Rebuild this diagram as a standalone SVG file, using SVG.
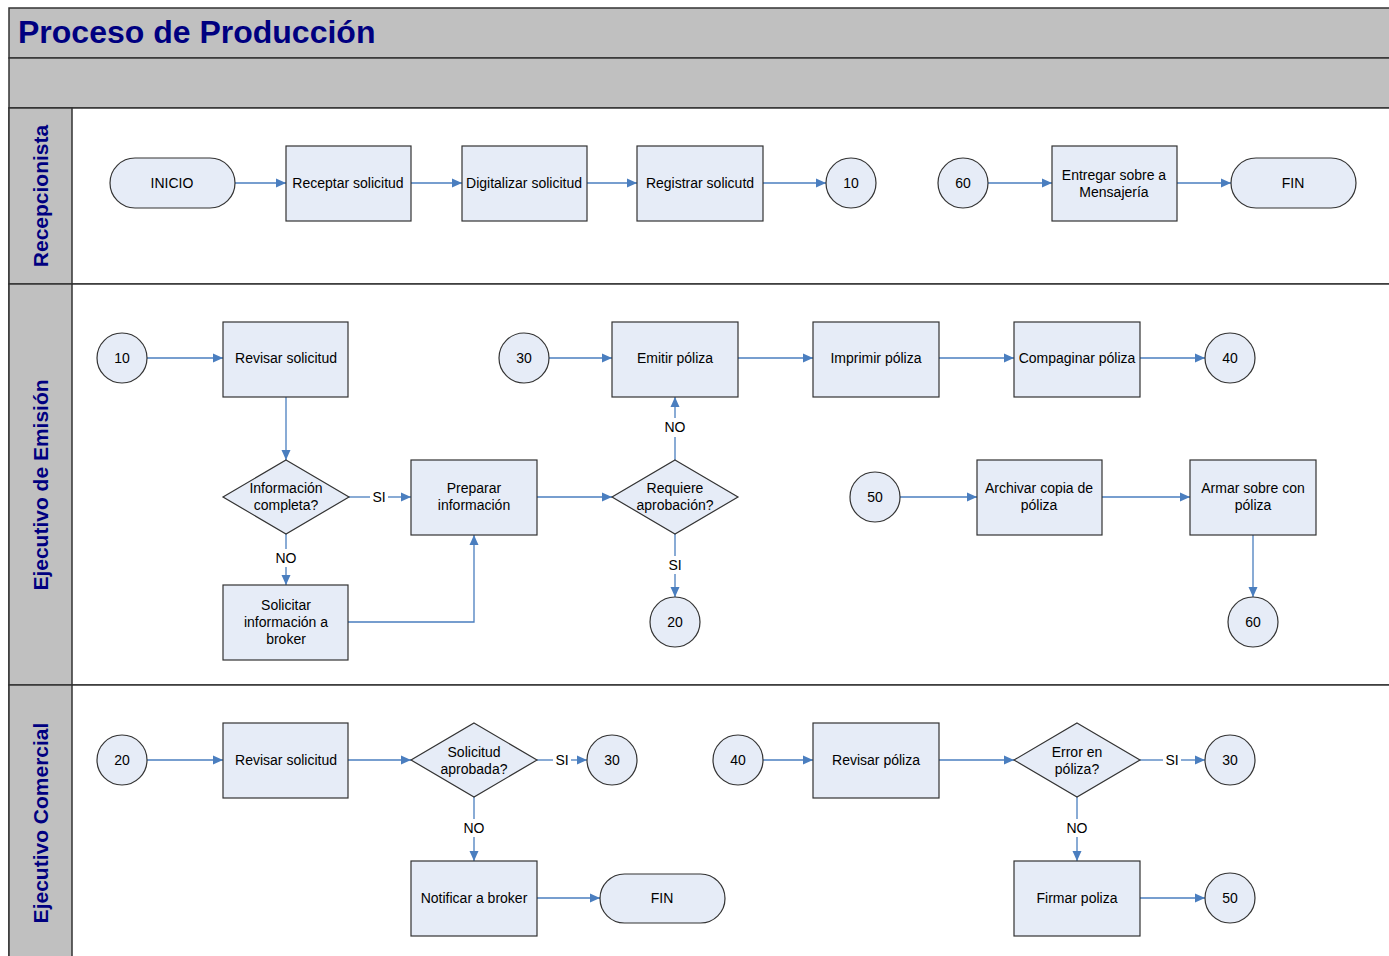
<svg xmlns="http://www.w3.org/2000/svg" width="1389" height="956" viewBox="0 0 1389 956">
<defs>
<marker id="ah" viewBox="0 0 10 10" refX="10" refY="5" markerWidth="10" markerHeight="10" markerUnits="userSpaceOnUse" orient="auto">
<path d="M0,0.5 L10,5 L0,9.5 Z" fill="#4a7ebf"/>
</marker>
<style>
.band{fill:#c0c0c0;stroke:#333;stroke-width:1.5}
.lane{fill:#fff;stroke:#333;stroke-width:1.5}
.sh{fill:#e6ecf7;stroke:#333;stroke-width:1.2}
.t{font-family:"Liberation Sans",Arial,sans-serif;font-size:14px;fill:#000;text-anchor:middle;dominant-baseline:central}
.lbl{font-family:"Liberation Sans",Arial,sans-serif;font-size:14px;fill:#000;text-anchor:middle;dominant-baseline:central}
.lt{font-family:"Liberation Sans",Arial,sans-serif;font-size:21px;font-weight:bold;fill:#000080;text-anchor:middle;dominant-baseline:central}
.c{fill:none;stroke:#4a7ebf;stroke-width:1.3;marker-end:url(#ah)}
.cn{fill:none;stroke:#4a7ebf;stroke-width:1.3}
</style>
</defs>
<rect width="1389" height="956" fill="#fff"/>
<g id="frame">
<rect class="band" x="9" y="8" width="1390" height="50"/>
<text x="18" y="32" font-family="Liberation Sans,Arial,sans-serif" font-size="32" font-weight="bold" fill="#000080" dominant-baseline="central">Proceso de Producción</text>
<rect class="band" x="9" y="58" width="1390" height="50"/>
<rect class="lane" x="9" y="108" width="1390" height="176"/>
<rect class="lane" x="9" y="284" width="1390" height="401"/>
<rect class="lane" x="9" y="685" width="1390" height="280"/>
<rect class="band" x="9" y="108" width="63" height="176"/>
<rect class="band" x="9" y="284" width="63" height="401"/>
<rect class="band" x="9" y="685" width="63" height="280"/>
<text class="lt" transform="translate(40,196) rotate(-90)">Recepcionista</text>
<text class="lt" transform="translate(40,485) rotate(-90)">Ejecutivo de Emisión</text>
<text class="lt" transform="translate(40,823) rotate(-90)">Ejecutivo Comercial</text>
</g>
<g id="connectors">
<path class="c" d="M235,183 H286"/>
<path class="c" d="M411,183 H462"/>
<path class="c" d="M587,183 H637"/>
<path class="c" d="M763,183 H826"/>
<path class="c" d="M988,183 H1052"/>
<path class="c" d="M1177,183 H1231"/>
<path class="c" d="M147,358 H223"/>
<path class="c" d="M286,397 V460"/>
<path class="c" d="M549,358 H612"/>
<path class="c" d="M738,358 H813"/>
<path class="c" d="M939,358 H1014"/>
<path class="c" d="M1140,358 H1205"/>
<path class="cn" d="M349,497 H370"/><path class="c" d="M388,497 H411"/>
<path class="cn" d="M286,534 V549"/><path class="c" d="M286,567 V585"/>
<path class="c" d="M348,622 H474 V535"/>
<path class="c" d="M537,497 H612"/>
<path class="cn" d="M675,460 V437"/><path class="c" d="M675,418 V397"/>
<path class="cn" d="M675,534 V556"/><path class="c" d="M675,574 V597"/>
<path class="c" d="M900,497 H977"/>
<path class="c" d="M1102,497 H1190"/>
<path class="c" d="M1253,535 V597"/>
<path class="c" d="M147,760 H223"/>
<path class="c" d="M348,760 H411"/>
<path class="cn" d="M537,760 H553"/><path class="c" d="M571,760 H587"/>
<path class="cn" d="M474,797 V819"/><path class="c" d="M474,837 V861"/>
<path class="c" d="M537,898 H600"/>
<path class="c" d="M763,760 H813"/>
<path class="c" d="M939,760 H1014"/>
<path class="cn" d="M1140,760 H1163"/><path class="c" d="M1181,760 H1205"/>
<path class="cn" d="M1077,797 V819"/><path class="c" d="M1077,837 V861"/>
<path class="c" d="M1140,898 H1205"/>
<text class="lbl" x="379" y="497">SI</text>
<text class="lbl" x="286" y="558">NO</text>
<text class="lbl" x="675" y="427">NO</text>
<text class="lbl" x="675" y="565">SI</text>
<text class="lbl" x="562" y="760">SI</text>
<text class="lbl" x="474" y="828">NO</text>
<text class="lbl" x="1172" y="760">SI</text>
<text class="lbl" x="1077" y="828">NO</text>
</g>
<g id="n_inicio"><rect class="sh" x="110" y="158" width="125" height="50" rx="25"/><text class="t" x="172" y="183">INICIO</text></g>
<g id="n_receptar"><rect class="sh" x="286" y="146" width="125" height="75"/><text class="t" x="348" y="183">Receptar solicitud</text></g>
<g id="n_digitalizar"><rect class="sh" x="462" y="146" width="125" height="75"/><text class="t" x="524" y="183">Digitalizar solicitud</text></g>
<g id="n_registrar"><rect class="sh" x="637" y="146" width="126" height="75"/><text class="t" x="700" y="183">Registrar solicutd</text></g>
<g id="n_c10a"><circle class="sh" cx="851" cy="183" r="25"/><text class="t" x="851" y="183">10</text></g>
<g id="n_c60a"><circle class="sh" cx="963" cy="183" r="25"/><text class="t" x="963" y="183">60</text></g>
<g id="n_entregar"><rect class="sh" x="1052" y="146" width="125" height="75"/><text class="t" x="1114" y="175">Entregar sobre a</text><text class="t" x="1114" y="192">Mensajería</text></g>
<g id="n_fin1"><rect class="sh" x="1231" y="158" width="125" height="50" rx="25"/><text class="t" x="1293" y="183">FIN</text></g>

<g id="n_c10b"><circle class="sh" cx="122" cy="358" r="25"/><text class="t" x="122" y="358">10</text></g>
<g id="n_revisar1"><rect class="sh" x="223" y="322" width="125" height="75"/><text class="t" x="286" y="358">Revisar solicitud</text></g>
<g id="n_c30a"><circle class="sh" cx="524" cy="358" r="25"/><text class="t" x="524" y="358">30</text></g>
<g id="n_emitir"><rect class="sh" x="612" y="322" width="126" height="75"/><text class="t" x="675" y="358">Emitir póliza</text></g>
<g id="n_imprimir"><rect class="sh" x="813" y="322" width="126" height="75"/><text class="t" x="876" y="358">Imprimir póliza</text></g>
<g id="n_compaginar"><rect class="sh" x="1014" y="322" width="126" height="75"/><text class="t" x="1077" y="358">Compaginar póliza</text></g>
<g id="n_c40a"><circle class="sh" cx="1230" cy="358" r="25"/><text class="t" x="1230" y="358">40</text></g>
<g id="n_infocompleta"><path class="sh" d="M286,460 L349,497 L286,534 L223,497 Z"/><text class="t" x="286" y="488">Información</text><text class="t" x="286" y="505">completa?</text></g>
<g id="n_preparar"><rect class="sh" x="411" y="460" width="126" height="75"/><text class="t" x="474" y="488">Preparar</text><text class="t" x="474" y="505">información</text></g>
<g id="n_requiere"><path class="sh" d="M675,460 L738,497 L675,534 L612,497 Z"/><text class="t" x="675" y="488">Requiere</text><text class="t" x="675" y="505">aprobación?</text></g>
<g id="n_c50a"><circle class="sh" cx="875" cy="497" r="25"/><text class="t" x="875" y="497">50</text></g>
<g id="n_archivar"><rect class="sh" x="977" y="460" width="125" height="75"/><text class="t" x="1039" y="488">Archivar copia de</text><text class="t" x="1039" y="505">póliza</text></g>
<g id="n_armar"><rect class="sh" x="1190" y="460" width="126" height="75"/><text class="t" x="1253" y="488">Armar sobre con</text><text class="t" x="1253" y="505">póliza</text></g>
<g id="n_solicitar"><rect class="sh" x="223" y="585" width="125" height="75"/><text class="t" x="286" y="605">Solicitar</text><text class="t" x="286" y="622">información a</text><text class="t" x="286" y="639">broker</text></g>
<g id="n_c20a"><circle class="sh" cx="675" cy="622" r="25"/><text class="t" x="675" y="622">20</text></g>
<g id="n_c60b"><circle class="sh" cx="1253" cy="622" r="25"/><text class="t" x="1253" y="622">60</text></g>

<g id="n_c20b"><circle class="sh" cx="122" cy="760" r="25"/><text class="t" x="122" y="760">20</text></g>
<g id="n_revisar2"><rect class="sh" x="223" y="723" width="125" height="75"/><text class="t" x="286" y="760">Revisar solicitud</text></g>
<g id="n_aprobada"><path class="sh" d="M474,723 L537,760 L474,797 L411,760 Z"/><text class="t" x="474" y="752">Solicitud</text><text class="t" x="474" y="769">aprobada?</text></g>
<g id="n_c30b"><circle class="sh" cx="612" cy="760" r="25"/><text class="t" x="612" y="760">30</text></g>
<g id="n_c40b"><circle class="sh" cx="738" cy="760" r="25"/><text class="t" x="738" y="760">40</text></g>
<g id="n_revisarpoliza"><rect class="sh" x="813" y="723" width="126" height="75"/><text class="t" x="876" y="760">Revisar póliza</text></g>
<g id="n_error"><path class="sh" d="M1077,723 L1140,760 L1077,797 L1014,760 Z"/><text class="t" x="1077" y="752">Error en</text><text class="t" x="1077" y="769">póliza?</text></g>
<g id="n_c30c"><circle class="sh" cx="1230" cy="760" r="25"/><text class="t" x="1230" y="760">30</text></g>
<g id="n_notificar"><rect class="sh" x="411" y="861" width="126" height="75"/><text class="t" x="474" y="898">Notificar a broker</text></g>
<g id="n_fin2"><rect class="sh" x="600" y="874" width="125" height="49" rx="24.5"/><text class="t" x="662" y="898">FIN</text></g>
<g id="n_firmar"><rect class="sh" x="1014" y="861" width="126" height="75"/><text class="t" x="1077" y="898">Firmar poliza</text></g>
<g id="n_c50b"><circle class="sh" cx="1230" cy="898" r="25"/><text class="t" x="1230" y="898">50</text></g>
</svg>
